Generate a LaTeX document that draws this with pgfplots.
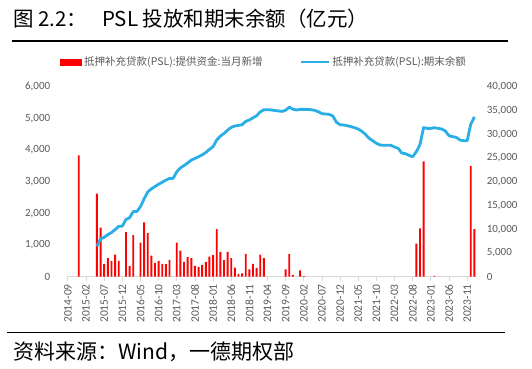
\documentclass[border=0pt]{standalone}
\usepackage{pgfplots}
\pgfplotsset{compat=1.18}
\usepackage{fontspec}
\setmainfont{Carlito}
\newfontfamily\cjk{Noto Sans CJK SC}
\definecolor{lineblue}{RGB}{41,174,229}
\definecolor{tickgray}{RGB}{89,89,89}
\definecolor{axisgray}{RGB}{217,217,217}
\begin{document}
\begin{tikzpicture}
\useasboundingbox (0,0) rectangle (532pt,368pt);
% title and rules
\node[anchor=base west, inner sep=0pt, font=\cjk\fontsize{20.5}{24}\selectfont] at (13pt,342pt) {图 2.2：};
\node[anchor=base west, inner sep=0pt, font=\cjk\fontsize{20.5}{24}\selectfont] at (102pt,342pt) {PSL 投放和期末余额（亿元）};
\draw[line width=1.6pt] (11.7pt,327.3pt) -- (508pt,327.3pt);
\draw[line width=1.5pt] (7.3pt,35.7pt) -- (505pt,35.7pt);
\node[anchor=base west, inner sep=0pt, font=\cjk\fontsize{21}{24}\selectfont] at (13pt,8.5pt) {资料来源：Wind，一德期权部};
\begin{axis}[
  at={(66.7pt,91.3pt)}, anchor=south west,
  width=410.6pt, height=190pt, scale only axis,
  xmin=-0.33, xmax=112.8, ymin=0, ymax=6000,
  axis x line*=bottom, axis y line*=left,
  y axis line style={draw=none},
  x axis line style={draw=axisgray, line width=0.8pt, -},
  ytick={0,1000,...,6000},
  ytick style={draw=none},
  yticklabel style={font=\fontsize{11}{13}\selectfont, text=tickgray, xshift=-9pt},
  xtick={0,5,...,110},
  xticklabels={2014-09,2015-02,2015-07,2015-12,2016-05,2016-10,2017-03,2017-08,2018-01,2018-06,2018-11,2019-04,2019-09,2020-02,2020-07,2020-12,2021-05,2021-10,2022-03,2022-08,2023-01,2023-06,2023-11},
  xticklabel style={rotate=90, anchor=east, font=\fontsize{11.5}{13}\selectfont, text=tickgray},
  xtick style={draw=axisgray, line width=0.8pt},
  tick align=outside, major tick length=4pt,
  scaled y ticks=false,
  /pgf/number format/1000 sep={,},
  /pgf/number format/assume math mode=true,
  legend columns=2,
  legend style={at={(axis description cs:-0.0163,1.13)}, anchor=west, draw=none, fill=none, inner sep=0pt,
    font=\cjk\fontsize{10.5}{12}\selectfont, text=tickgray,
    /tikz/every even column/.append style={column sep=35pt}},
  legend cell align=left,
]
\addplot[ybar, bar width=1.9pt, fill=red, draw=none,
  legend image code/.code={\fill[red] (0pt,-3.5pt) rectangle (22pt,3.5pt);}]
coordinates {(3,3831) (8,2620) (9,1546) (10,403) (11,583) (12,498) (13,700) (14,498) (16,1409) (17,340) (18,1313) (20,1080) (21,1715) (22,1377) (23,667) (24,435) (25,498) (26,403) (27,400) (28,530) (30,1080) (31,826) (32,467) (33,615) (34,583) (35,340) (36,308) (37,372) (38,467) (39,636) (40,689) (41,1504) (42,784) (43,520) (44,784) (45,583) (46,287) (47,86) (48,107) (49,720) (50,234) (51,403) (52,276) (53,700) (54,583) (60,234) (61,720) (62,54) (64,202) (65,22) (96,1048) (97,1524) (98,3641) (101,25) (111,3500) (112,1500)};
\addlegendentry{抵押补充贷款(PSL):提供资金:当月新增}
\addlegendimage{legend image code/.code={\draw[lineblue, line width=2.8pt] (0pt,0pt) -- (28pt,0pt);}}
\addlegendentry{抵押补充贷款(PSL):期末余额}
\end{axis}
\begin{axis}[
  at={(66.7pt,91.3pt)}, anchor=south west,
  width=410.6pt, height=190pt, scale only axis,
  xmin=-0.33, xmax=112.8, ymin=0, ymax=40000,
  axis x line=none, axis y line*=right,
  y axis line style={draw=none},
  ytick={0,5000,...,40000},
  ytick style={draw=none},
  yticklabel style={font=\fontsize{11}{13}\selectfont, text=tickgray, xshift=6pt},
  scaled y ticks=false,
  /pgf/number format/1000 sep={,},
  /pgf/number format/assume math mode=true,
]
\addplot[lineblue, line width=2.8pt, line join=round] coordinates {
(8,6400) (9,7950) (10,8300) (11,8850) (12,9300) (13,9900) (14,10600) (15,10650) (16,12050) (17,12420) (18,13700) (19,13720) (20,14750) (21,16400) (22,17850) (23,18500) (24,18980) (25,19480) (26,19890) (27,20340) (28,20700) (29,20700) (30,22100) (31,22900) (32,23400) (33,23950) (34,24550) (35,24900) (36,25250) (37,25650) (38,26150) (39,26800) (40,27400) (41,28780) (42,29600) (43,30150) (44,30850) (45,31450) (46,31730) (47,31850) (48,32000) (49,32700) (50,33000) (51,33450) (52,33900) (53,34700) (54,35160) (55,35160) (56,35100) (57,35000) (58,34900) (59,34800) (60,35050) (61,35700) (62,35250) (63,35100) (64,35230) (65,35230) (66,35230) (67,35160) (68,35020) (69,34740) (70,34320) (71,34250) (72,34180) (73,33830) (74,32500) (75,32000) (76,31930) (77,31790) (78,31580) (79,31370) (80,31090) (81,30600) (82,29960) (83,29120) (84,28630) (85,28080) (86,27730) (87,27660) (88,27660) (89,27660) (90,27300) (91,27020) (92,26040) (93,25900) (94,25550) (95,25260) (96,26320) (97,27800) (98,31400) (99,31230) (100,31230) (101,31370) (102,31230) (103,31090) (104,30670) (105,29690) (106,29470) (107,29340) (108,28780) (109,28630) (110,28630) (111,32100) (112,33650)};
\end{axis}
\end{tikzpicture}
\end{document}
